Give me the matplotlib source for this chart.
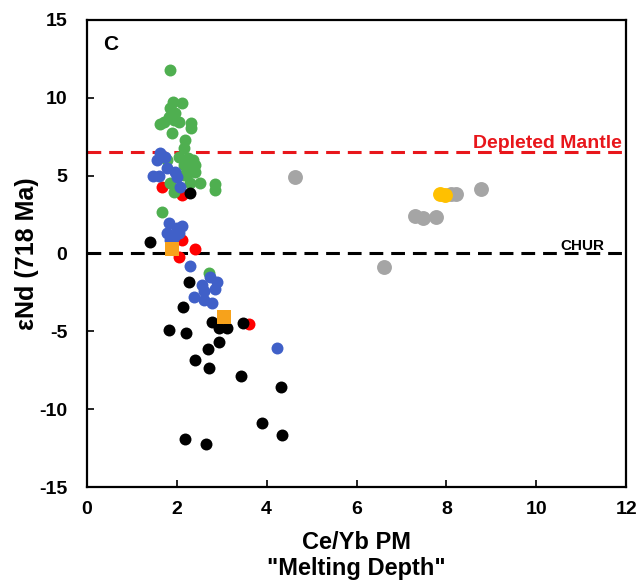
import matplotlib
matplotlib.use("Agg")
import matplotlib.pyplot as plt

# Ce/Yb PM vs eNd(718 Ma), one pair of lists per group
green_x = [1.86, 1.92, 2.12, 1.86, 1.97, 1.82, 1.71, 1.93, 2.04, 1.63, 2.32, 2.32, 1.89, 2.19,
           2.15, 1.78, 2.04, 2.26, 2.37, 2.15, 2.34, 2.41, 2.15, 2.26, 2.41, 2.52, 2.86, 2.86,
           1.86, 1.93, 2.30, 1.68, 2.71]
green_y = [11.79, 9.75, 9.69, 9.33, 9.0, 8.79, 8.47, 8.57, 8.47, 8.32, 8.36, 8.04, 7.72, 7.29,
           6.76, 6.0, 6.22, 6.11, 6.0, 5.68, 5.47, 5.68, 5.04, 5.15, 5.25, 4.5, 4.46, 4.08,
           4.5, 3.97, 4.5, 2.65, -1.27]

blue_x = [1.63, 1.74, 1.56, 1.78, 1.60, 1.48, 2.00, 1.97, 2.08, 1.83, 2.11, 2.00, 1.78, 1.93,
          2.04, 1.86, 2.30, 2.74, 2.89, 2.56, 2.86, 2.60, 2.39, 2.60, 2.78, 4.22]
blue_y = [6.43, 6.22, 6.0, 5.47, 4.98, 4.98, 4.93, 5.25, 4.29, 1.98, 1.77, 1.62, 1.3, 1.08,
          1.3, 0.87, -0.8, -1.53, -1.81, -2.02, -2.3, -2.39, -2.81, -2.99, -3.2, -6.05]

red_x = [1.68, 2.11, 2.11, 2.41, 2.06, 3.60]
red_y = [4.29, 3.76, 0.87, 0.27, -0.2, -4.55]

black_x = [2.30, 1.41, 2.28, 2.14, 2.78, 3.47, 2.95, 3.12, 1.82, 2.21, 2.93, 2.70, 2.41, 2.72,
           3.42, 4.32, 3.90, 4.34, 2.18, 2.66]
black_y = [3.9, 0.72, -1.81, -3.46, -4.38, -4.44, -4.8, -4.8, -4.91, -5.13, -5.68, -6.11,
           -6.86, -7.33, -7.85, -8.55, -10.87, -11.68, -11.93, -12.2]

orange_x = [1.89, 3.06]
orange_y = [0.27, -4.1]

gray_x = [4.63, 6.60, 7.30, 7.47, 7.77, 8.22, 8.10, 8.77]
gray_y = [4.91, -0.89, 2.43, 2.26, 2.37, 3.82, 3.80, 4.12]

yellow_x = [7.86, 7.97]
yellow_y = [3.82, 3.76]

DEPLETED_MANTLE = 6.5
CHUR = 0.0

plt.rcParams["font.family"] = ["Liberation Sans", "DejaVu Sans"]
plt.rcParams["font.weight"] = "bold"
plt.rcParams["axes.unicode_minus"] = False

fig = plt.figure(figsize=(6.39, 5.82), dpi=100)
ax = fig.add_axes([0.136, 0.163, 0.844, 0.803])

ax.axhline(DEPLETED_MANTLE, color="#E8161B", ls=(0, (4.5, 2.6)), lw=2.2, zorder=1)
ax.axhline(CHUR, color="black", ls=(0, (4.5, 2.6)), lw=2.2, zorder=1)

ms = 74
ax.scatter(red_x, red_y, s=ms, color="#FF0000", lw=0, zorder=2)
ax.scatter(green_x, green_y, s=ms, color="#4FAF50", lw=0, zorder=3)
ax.scatter(blue_x, blue_y, s=ms, color="#4060C8", lw=0, zorder=4)
ax.scatter(black_x, black_y, s=ms, color="black", lw=0, zorder=5)
ax.scatter(orange_x, orange_y, s=95, marker="s", color="#F7A21B", lw=0, zorder=6)
ax.scatter(gray_x, gray_y, s=115, color="#A5A5A5", lw=0, zorder=3)
ax.scatter(yellow_x, yellow_y, s=115, color="#FFC000", lw=0, zorder=4)

ax.text(11.9, DEPLETED_MANTLE + 0.3, "Depleted Mantle", color="#E8161B", fontsize=14,
        fontweight="bold", ha="right", va="baseline")
ax.text(11.52, CHUR + 0.25, "CHUR", color="black", fontsize=11, fontweight="bold",
        ha="right", va="baseline")
ax.text(0.35, 13.4, "C", fontsize=15, fontweight="bold", ha="left", va="center")

ax.set_xlim(0, 12)
ax.set_ylim(-15, 15)
ax.set_xticks(range(0, 13, 2))
ax.set_yticks(range(-15, 16, 5))
ax.tick_params(direction="in", length=5, width=1.2, labelsize=14, pad=10)
ax.tick_params(axis="y", pad=14)
for lab in ax.get_xticklabels() + ax.get_yticklabels():
    lab.set_fontweight("bold")
for sp in ax.spines.values():
    sp.set_linewidth(1.6)

ax.set_xlabel('Ce/Yb PM\n"Melting Depth"', fontsize=17, fontweight="bold", labelpad=9)
ax.set_ylabel("εNd (718 Ma)", fontsize=18, fontweight="bold", labelpad=0)

fig.savefig("out.png", dpi=100)
